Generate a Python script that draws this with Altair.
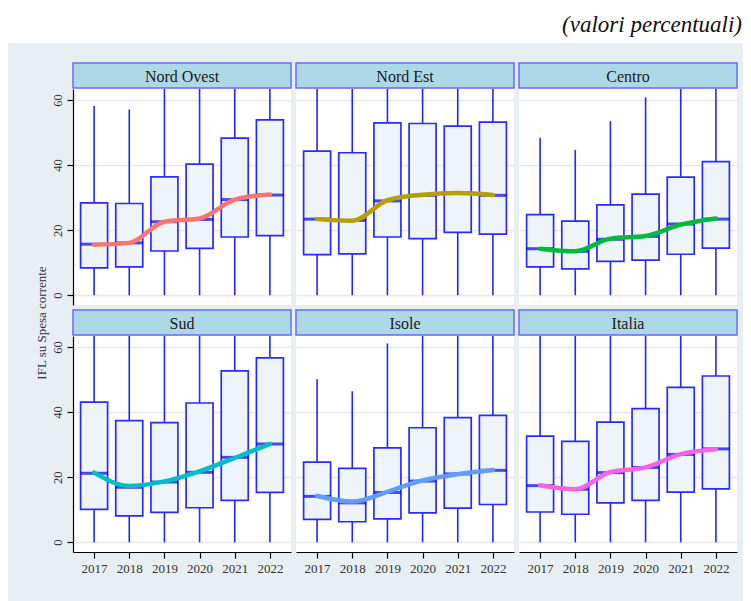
import altair as alt
import pandas as pd

years = [2017, 2018, 2019, 2020, 2021, 2022]
regions_top = ["Nord Ovest", "Nord Est", "Centro"]
regions_bottom = ["Sud", "Isole", "Italia"]

# upper whisker (values above ~63 are cut by the panel top)
whisker_hi = {
    "Nord Ovest": [58.2, 57.1, 65, 65, 65, 65],
    "Nord Est": [65, 65, 65, 65, 65, 65],
    "Centro": [48.4, 44.7, 53.5, 60.8, 65, 65],
    "Sud": [65, 65, 65, 65, 65, 65],
    "Isole": [50.1, 46.4, 61.1, 65, 65, 65],
    "Italia": [65, 65, 65, 65, 65, 65],
}
whisker_lo = {
    "Nord Ovest": [0, 0, 0, 0, 0, 0],
    "Nord Est": [0, 0, 0, 0, 0, 0],
    "Centro": [0, 0, 0, 0, 0, 0],
    "Sud": [0, 0, 0, 0, 0, 0],
    "Isole": [0, 0, 0, 0, 0, 0],
    "Italia": [0, 0, 0, 0, 0, 0],
}
q3 = {
    "Nord Ovest": [28.4, 28.2, 36.4, 40.3, 48.3, 53.9],
    "Nord Est": [44.3, 43.8, 53.0, 52.8, 52.0, 53.2],
    "Centro": [24.8, 22.8, 27.8, 31.1, 36.3, 41.1],
    "Sud": [43.1, 37.4, 36.8, 42.8, 52.7, 56.7],
    "Isole": [24.6, 22.7, 29.0, 35.2, 38.3, 39.0],
    "Italia": [32.6, 31.0, 36.9, 41.1, 47.6, 51.1],
}
median = {
    "Nord Ovest": [15.7, 16.1, 22.6, 23.3, 29.4, 30.8],
    "Nord Est": [23.4, 23.0, 29.0, 30.7, 31.5, 30.7],
    "Centro": [14.3, 13.5, 17.2, 18.1, 21.9, 23.4],
    "Sud": [21.2, 16.9, 18.5, 21.5, 26.1, 30.2],
    "Isole": [14.1, 12.1, 15.3, 18.8, 21.0, 22.1],
    "Italia": [17.4, 16.3, 21.4, 23.0, 27.0, 28.7],
}
q1 = {
    "Nord Ovest": [8.4, 8.7, 13.6, 14.4, 17.9, 18.3],
    "Nord Est": [12.5, 12.7, 17.9, 17.4, 19.3, 18.8],
    "Centro": [8.7, 8.1, 10.4, 10.8, 12.6, 14.5],
    "Sud": [10.1, 8.1, 9.2, 10.6, 12.9, 15.3],
    "Isole": [7.0, 6.3, 7.2, 9.0, 10.5, 11.6],
    "Italia": [9.3, 8.6, 12.1, 12.9, 15.4, 16.4],
}
trend = {
    "Nord Ovest": [15.5, 16.1, 22.6, 23.6, 29.4, 31.0],
    "Nord Est": [23.4, 22.9, 29.2, 30.9, 31.4, 30.8],
    "Centro": [14.3, 13.5, 17.4, 18.2, 21.7, 23.6],
    "Sud": [21.4, 17.3, 18.7, 21.8, 25.9, 30.2],
    "Isole": [14.2, 12.5, 15.5, 19.0, 20.9, 22.2],
    "Italia": [17.5, 16.3, 21.6, 23.0, 27.1, 28.6],
}
line_colors = {
    "Nord Ovest": "#F8766D",
    "Nord Est": "#B79F00",
    "Centro": "#00BA38",
    "Sud": "#00BFC4",
    "Isole": "#619CFF",
    "Italia": "#F564E3",
}
y_ticks = [0, 20, 40, 60]
y_title = "IFL su Spesa corrente"
main_title = "(valori percentuali)"

FONT = "Liberation Serif"
BG = "#e8eff2"
PW, PH = 218, 216
HH = 25
CANVAS_W = 735


def region_df(r):
    return pd.DataFrame({
        "year": years,
        "lo": whisker_lo[r],
        "hi": whisker_hi[r],
        "q1": q1[r],
        "q3": q3[r],
        "med": median[r],
        "trend": trend[r],
    })


def panel(r, show_y, show_x):
    d = region_df(r)
    if show_y:
        yaxis = alt.Axis(values=y_ticks, title=None, labelAngle=270, labelFont=FONT,
                         labelFontSize=12.5, labelColor="#333333", labelAlign="center",
                         labelBaseline="bottom", labelPadding=3,
                         tickColor="#000000", tickSize=6, tickWidth=1.2,
                         domainColor="#000000", domainWidth=1.2,
                         gridColor="#e3e9ec", gridWidth=1.5)
    else:
        yaxis = alt.Axis(values=y_ticks, title=None, labels=False, ticks=False,
                         domain=False, gridColor="#e3e9ec", gridWidth=1.5)
    if show_x:
        xaxis = alt.Axis(title=None, labelAngle=0, labelFont=FONT, labelFontSize=13,
                         labelColor="#333333", labelPadding=4,
                         tickColor="#000000", tickSize=6, tickWidth=1.2,
                         domainColor="#000000", domainWidth=1.2, grid=False)
    else:
        xaxis = None
    xs = alt.Scale(type="point", padding=0.6)
    ys = alt.Scale(domain=[-3, 63.4], nice=False, zero=False)
    X = alt.X("year:O", scale=xs, axis=xaxis)
    base = alt.Chart(d)
    rule = base.mark_rule(color="#2424ff", strokeWidth=1.6, clip=True).encode(
        x=X, y=alt.Y("lo:Q", scale=ys, axis=yaxis), y2="hi:Q")
    box = base.mark_bar(size=27, fill="#eef5f9", stroke="#2a2aff", strokeWidth=1.7).encode(
        x=X, y=alt.Y("q1:Q", scale=ys, axis=yaxis), y2="q3:Q")
    med = base.mark_tick(size=27, thickness=3, color="#0000e6").encode(
        x=X, y=alt.Y("med:Q", scale=ys, axis=yaxis))
    line = base.mark_line(color=line_colors[r], strokeWidth=4.5, interpolate="monotone",
                          strokeCap="round", strokeJoin="round").encode(
        x=X, y=alt.Y("trend:Q", scale=ys, axis=yaxis))
    return alt.layer(rule, box, med, line).properties(
        width=PW, height=PH, view=alt.ViewBackground(fill="white", strokeWidth=0))


def header(r):
    return alt.Chart(pd.DataFrame({"t": [r]})).mark_text(
        font=FONT, fontSize=16, color="#1a1a1a", align="center", baseline="middle").encode(
        text="t:N", x=alt.value(PW / 2), y=alt.value(HH / 2 + 1)).properties(
        width=PW, height=HH,
        view=alt.ViewBackground(fill="#add8e6", stroke="#6a6aff", strokeWidth=1.5))


def cell(r, show_y, show_x):
    return alt.vconcat(header(r), panel(r, show_y, show_x), spacing=0)


row1 = alt.hconcat(*[cell(r, i == 0, False) for i, r in enumerate(regions_top)], spacing=3)
row2 = alt.hconcat(*[cell(r, i == 0, True) for i, r in enumerate(regions_bottom)], spacing=3)
grid = alt.vconcat(row1, row2, spacing=4)

ytitle = alt.Chart(pd.DataFrame({"t": [y_title]})).mark_text(
    font=FONT, fontSize=13, color="#333333", angle=270, align="center", baseline="middle").encode(
    text="t:N", x=alt.value(34), y=alt.value(260)).properties(
    width=40, height=2 * (HH + PH) + 5, view=alt.ViewBackground(strokeWidth=0))

middle = alt.hconcat(ytitle, grid, spacing=1)

title_view = alt.Chart(pd.DataFrame({"t": [main_title]})).mark_text(
    font=FONT, fontSize=23, fontStyle="italic", color="#111111", align="right",
    baseline="alphabetic").encode(
    text="t:N", x=alt.value(CANVAS_W - 1), y=alt.value(24)).properties(
    width=CANVAS_W, height=35, view=alt.ViewBackground(fill="white", strokeWidth=0))

chart = alt.vconcat(title_view, middle, spacing=19).properties(
    background=BG,
    padding={"left": 0, "top": 0, "right": 0, "bottom": 32},
).configure_view(strokeWidth=0)

chart.save("out.html", embed_options={"renderer": "svg", "actions": False})
